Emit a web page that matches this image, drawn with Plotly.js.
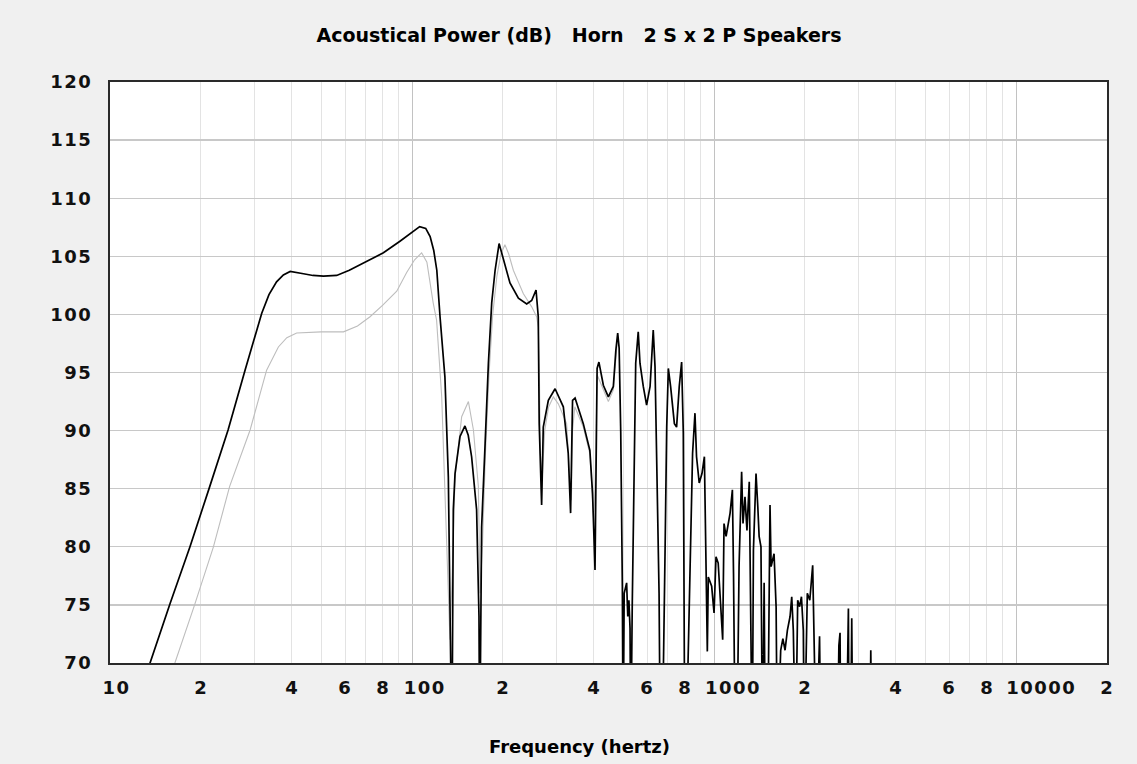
<!DOCTYPE html>
<html>
<head>
<meta charset="utf-8">
<script src="https://cdn.plot.ly/plotly-3.0.1.min.js"></script>
<style>
  html, body { margin: 0; padding: 0; background: #f0f0f0; }
  #chart { width: 1137px; height: 764px; }
  #chart .ytick text, #chart .annotation-text.ticklab { letter-spacing: 1.5px; }
</style>
</head>
<body>
<div id="chart"></div>
<script>
// ---- Data ----
const mainFreq = [13.0, 13.57, 15.8, 18.4, 21.4, 24.6, 28.0, 31.8, 33.6, 35.6, 37.5, 39.5, 43.7, 47.0, 50.9, 56.3, 62.0, 69.0, 80.4, 91.2, 100, 106, 111, 114.8, 118, 120.8, 123.8, 128.5, 131.9, 134.3, 135.5, 137, 138.8, 144.2, 149.7, 153.5, 157.5, 163.6, 166.6, 167.5, 170, 174.6, 179, 183.6, 188.4, 194.2, 200.6, 211, 225, 239.7, 249, 257.4, 261.8, 263.7, 268.6, 272, 282.7, 297.6, 316.9, 329, 335, 340, 346.6, 369, 388, 396, 403.5, 410, 415.7, 430, 446.7, 464, 473, 479.7, 485, 491, 497, 500, 504, 513.5, 518, 522.5, 527, 530, 536, 543, 550.3, 561, 568.5, 583, 598, 614, 621.6, 629, 637.6, 646, 657.6, 664, 680, 688.6, 697, 705.7, 718, 739, 751.6, 767, 781, 791, 800, 820, 833, 849, 864.6, 875, 893, 912, 929, 941, 950, 957, 982, 1000, 1015, 1032, 1050, 1068, 1079, 1096, 1130, 1150, 1160, 1175, 1200, 1210, 1234, 1247, 1266, 1285, 1308, 1318, 1338, 1350, 1377, 1396, 1410, 1430, 1447, 1465, 1478, 1515, 1532, 1545, 1580, 1605, 1620, 1662, 1690, 1718, 1749, 1785, 1808, 1830, 1862, 1880, 1892, 1920, 1947, 1975, 1990, 2036, 2075, 2121, 2140, 2180, 2235, 2260, 2560, 2590, 2613, 2630, 2740, 2770, 2785, 2800, 2830, 2857, 2880, 3280, 3303, 3330, 20000];
const mainDb = [68, 70, 75.1, 80.0, 85.2, 90.05, 95.2, 100.1, 101.7, 102.8, 103.4, 103.7, 103.5, 103.35, 103.3, 103.35, 103.8, 104.4, 105.3, 106.3, 107.1, 107.55, 107.4, 106.7, 105.5, 103.8, 99.8, 94.6, 86.0, 75.4, 62, 83.2, 86.3, 89.5, 90.4, 89.6, 87.75, 83.2, 74, 62, 81.7, 88.9, 95.8, 101, 103.8, 106.1, 104.7, 102.7, 101.4, 100.9, 101.2, 102.1, 99.8, 90.6, 83.6, 90.3, 92.6, 93.6, 92.05, 88.05, 82.9, 92.6, 92.8, 90.6, 88.3, 84.6, 78, 95.35, 95.9, 93.9, 92.9, 93.8, 96.9, 98.4, 97.1, 89.8, 76.6, 62, 76, 76.9, 74, 75.4, 73, 62, 75, 87.5, 95.8, 98.5, 95.8, 93.8, 92.2, 93.8, 96.6, 98.65, 95.5, 88.05, 76, 62, 70, 80, 90.3, 95.35, 93.8, 90.6, 90.3, 93.8, 95.9, 89.8, 62, 70, 77.4, 88.05, 91.5, 87.75, 85.5, 86.3, 87.75, 78.6, 71, 77.4, 76.6, 74.3, 79.15, 78.6, 74.85, 72, 82, 80.9, 82.9, 84.9, 77.7, 62, 70, 78.3, 86.45, 82, 84.3, 81.4, 85.6, 77.7, 62, 79.7, 86.3, 83.45, 80.9, 80, 62, 76.9, 62, 70, 83.6, 78.3, 79.4, 74.85, 62, 71.1, 72.1, 71.1, 72.8, 74, 75.7, 72.8, 62, 70, 75.4, 74.85, 75.7, 72.8, 62, 76, 75.4, 78.4, 74, 62, 72.3, 62, 62, 71.5, 72.6, 62, 62, 73, 74.7, 62, 62, 73.85, 62, 62, 71.1, 62, 62];

const refFreq = [16.0, 16.4, 19.0, 22.0, 24.9, 29.1, 33.0, 36.1, 38.5, 41.5, 50.0, 59.3, 66.0, 72.6, 80.0, 89.0, 96.0, 102, 107.6, 112, 117.5, 120.6, 125.4, 130, 133.5, 136, 138.8, 146, 153.7, 159.7, 165.8, 168, 171, 175, 180, 185, 191, 197, 203, 209, 216.5, 233.5, 249, 258.6, 261.8, 264, 266, 270, 275, 283, 293.6, 305, 325, 333, 337, 340, 346, 369, 388, 400, 406, 410, 430, 446.7, 464, 480];
const refDb = [69, 70, 74.9, 80.0, 85.2, 90.05, 95.2, 97.2, 98.0, 98.4, 98.5, 98.5, 99.0, 99.8, 100.8, 102.0, 103.6, 104.7, 105.3, 104.5, 101.0, 99.5, 92.9, 81.45, 72, 78, 86, 91.2, 92.5, 90.05, 85.2, 76, 80, 88, 95, 100, 103.3, 105.2, 106, 105.2, 103.8, 101.8, 100.65, 99.8, 98.9, 95, 88, 86, 90, 92, 92.9, 92.3, 90.6, 86, 84, 90, 92.05, 90.3, 88, 82, 88, 94.8, 93.6, 92.5, 93.5, 98.2];

const xTickVals = [10, 20, 40, 60, 80, 100, 200, 400, 600, 800, 1000, 2000, 4000, 6000, 8000, 10000, 20000];
const xTickText = ['10', '2', '4', '6', '8', '100', '2', '4', '6', '8', '1000', '2', '4', '6', '8', '10000', '2'];
const xMajorGrid = [10, 100, 1000, 10000];
const xMinorGrid = [20, 30, 40, 50, 60, 70, 80, 90, 200, 300, 400, 500, 600, 700, 800, 900, 2000, 3000, 4000, 5000, 6000, 7000, 8000, 9000];
const yTickVals = [70, 75, 80, 85, 90, 95, 100, 105, 110, 115, 120];

const chartTitle = 'Acoustical Power (dB)\u00A0\u00A0\u00A0Horn\u00A0\u00A0\u00A02 S x 2 P Speakers';
const xTitle = 'Frequency (hertz)';

// ---- Plot ----
const tickFont = { family: 'DejaVu Sans, Verdana, sans-serif', size: 18, color: '#111', weight: 'bold' };
const titleFont = { family: 'DejaVu Sans, Verdana, sans-serif', size: 19, color: '#000', weight: 'bold' };
const axisTitleFont = { family: 'DejaVu Sans, Verdana, sans-serif', size: 18, color: '#000', weight: 'bold' };

const traces = [
  { x: refFreq, y: refDb, type: 'scatter', mode: 'lines',
    line: { color: '#bdbdbd', width: 1.1 }, hoverinfo: 'skip', showlegend: false },
  { x: mainFreq, y: mainDb, type: 'scatter', mode: 'lines',
    line: { color: '#000000', width: 1.7 }, showlegend: false }
];

const annotations = xTickVals.map((v, i) => ({
  x: Math.log10(v), xref: 'x', y: 0, yref: 'paper',
  text: xTickText[i], showarrow: false,
  xanchor: 'left', yanchor: 'middle', xshift: -8, yshift: -24,
  font: tickFont
}));
annotations.push({
  x: (579 - 110) / 997, xref: 'paper', y: -0.1429, yref: 'paper',
  text: xTitle, showarrow: false, xanchor: 'center', yanchor: 'middle',
  font: axisTitleFont
});

const layout = {
  width: 1137, height: 764,
  paper_bgcolor: '#f0f0f0', plot_bgcolor: '#ffffff',
  margin: { l: 110, r: 30, t: 82, b: 101 },
  showlegend: false,
  title: {
    text: chartTitle, x: 579 / 1137, xanchor: 'center', xref: 'container',
    y: 0.954, yanchor: 'middle', yref: 'container',
    font: titleFont
  },
  xaxis: {
    type: 'log', range: [1, Math.log10(20000)],
    tickmode: 'array', tickvals: xMajorGrid, showticklabels: false, ticks: '',
    showgrid: true, gridcolor: '#c2c2c2', gridwidth: 1,
    minor: { tickmode: 'array', tickvals: xMinorGrid, showgrid: true, gridcolor: '#e3e3e3', gridwidth: 1, ticks: '' },
    showline: true, mirror: true, linecolor: '#2a2a2a', linewidth: 2,
    zeroline: false, fixedrange: true
  },
  yaxis: {
    range: [70, 120], tickmode: 'array', tickvals: yTickVals,
    ticks: '', ticklabelstandoff: 12, tickfont: tickFont,
    showgrid: true, gridcolor: '#c8c8c8', gridwidth: 1.3,
    showline: true, mirror: true, linecolor: '#2a2a2a', linewidth: 2,
    zeroline: false, fixedrange: true
  },
  annotations: annotations
};

Plotly.newPlot('chart', traces, layout, { displayModeBar: false, staticPlot: true }).then(() => {
  document.querySelectorAll('#chart .annotation-text').forEach(t => {
    if (/^\d+$/.test(t.textContent)) t.classList.add('ticklab');
  });
});
</script>
</body>
</html>
